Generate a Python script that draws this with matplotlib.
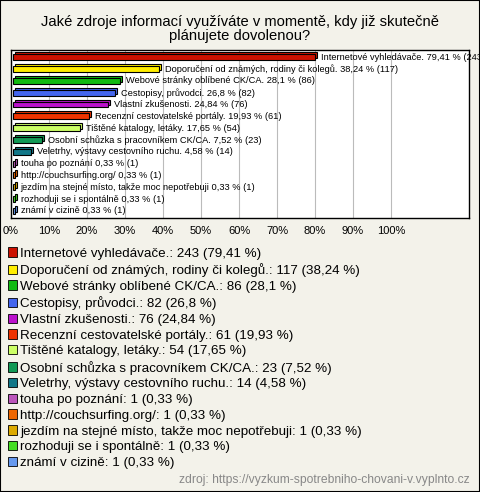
import matplotlib
matplotlib.use("Agg")
import matplotlib.pyplot as plt
import matplotlib.transforms as mtransforms
from matplotlib.patches import Patch

plt.rcParams['font.family'] = ['Liberation Sans', 'DejaVu Sans']

# data
categories = ["Internetové vyhledávače.", "Doporučení od známých, rodiny či kolegů.",
              "Webové stránky oblíbené CK/CA.", "Cestopisy, průvodci.",
              "Vlastní zkušenosti.", "Recenzní cestovatelské portály.",
              "Tištěné katalogy, letáky.", "Osobní schůzka s pracovníkem CK/CA.",
              "Veletrhy, výstavy cestovního ruchu.", "touha po poznání",
              "http://couchsurfing.org/", "jezdím na stejné místo, takže moc nepotřebuji",
              "rozhoduji se i spontálně", "známí v cizině"]
counts = [243, 117, 86, 82, 76, 61, 54, 23, 14, 1, 1, 1, 1, 1]
percents = [79.41, 38.24, 28.1, 26.8, 24.84, 19.93, 17.65, 7.52, 4.58, 0.33, 0.33, 0.33, 0.33, 0.33]
colors = ["#cc1100", "#ffee00", "#11bb11", "#4466ee", "#bb11cc", "#ee3300", "#ccff66",
          "#119955", "#117788", "#bb55bb", "#ee6600", "#ddaa00", "#44dd22", "#6699ee"]
ticks = list(range(0, 101, 10))

def czech(v):
    return ("%g" % v).replace(".", ",")

bg = "#f3f2ea"
fig = plt.figure(figsize=(4.8, 4.92), dpi=100, facecolor=bg)
fig.patches.append(plt.Rectangle((0.001, 0.001), 0.998, 0.998, transform=fig.transFigure,
                                 fill=False, edgecolor="black", linewidth=1.5))

fig.text(0.5, 0.941, "Jaké zdroje informací využíváte v momentě, kdy již skutečně\nplánujete dovolenou?",
         ha="center", va="center", fontsize=10.6, linespacing=1.0)

ax = fig.add_axes([0.023, 0.557, 0.954, 0.341])
ax.set_facecolor("white")
y = list(range(len(categories)))

# shadow (3D look) shifted a couple of pixels
shadow = mtransforms.offset_copy(ax.transData, fig=fig, x=2, y=2, units="dots")
ax.barh(y, percents, left=0.6, height=0.5, color=colors, edgecolor="black",
        linewidth=0.8, transform=shadow, zorder=2)
ax.barh(y, percents, left=0.6, height=0.5, color=colors, edgecolor="black",
        linewidth=0.8, zorder=3)

for i in y:
    ax.text(percents[i] + 2.2, i, "%s %s %% (%d)" % (categories[i], czech(percents[i]), counts[i]),
            va="center", ha="left", fontsize=6.7, zorder=4, clip_on=False)

ax.set_xlim(0, 120.5)
ax.set_ylim(len(categories) - 0.4, -0.6)
ax.set_xticks(ticks)
ax.set_xticklabels(["%d%%" % t for t in ticks], fontsize=8)
ax.set_yticks([])
ax.tick_params(axis="x", length=0, pad=6)
ax.grid(axis="x", color="#bbbbbb", linewidth=0.8, zorder=0)
for s in ax.spines.values():
    s.set_color("black")
    s.set_linewidth(1)

handles = [Patch(facecolor=c, edgecolor="black", linewidth=0.6) for c in colors]
labels = ["%s: %d (%s %%)" % (categories[i], counts[i], czech(percents[i])) for i in y]
fig.legend(handles, labels, loc="upper left", bbox_to_anchor=(0.005, 0.508),
           frameon=False, fontsize=9.6, handlelength=0.7, handleheight=0.7,
           handletextpad=0.25, labelspacing=0.255, borderaxespad=0)

fig.text(0.978, 0.025, "zdroj: https://vyzkum-spotrebniho-chovani-v.vyplnto.cz",
         ha="right", va="center", fontsize=8.7, color="#888888")

fig.savefig("out.png", dpi=100, facecolor=bg)
